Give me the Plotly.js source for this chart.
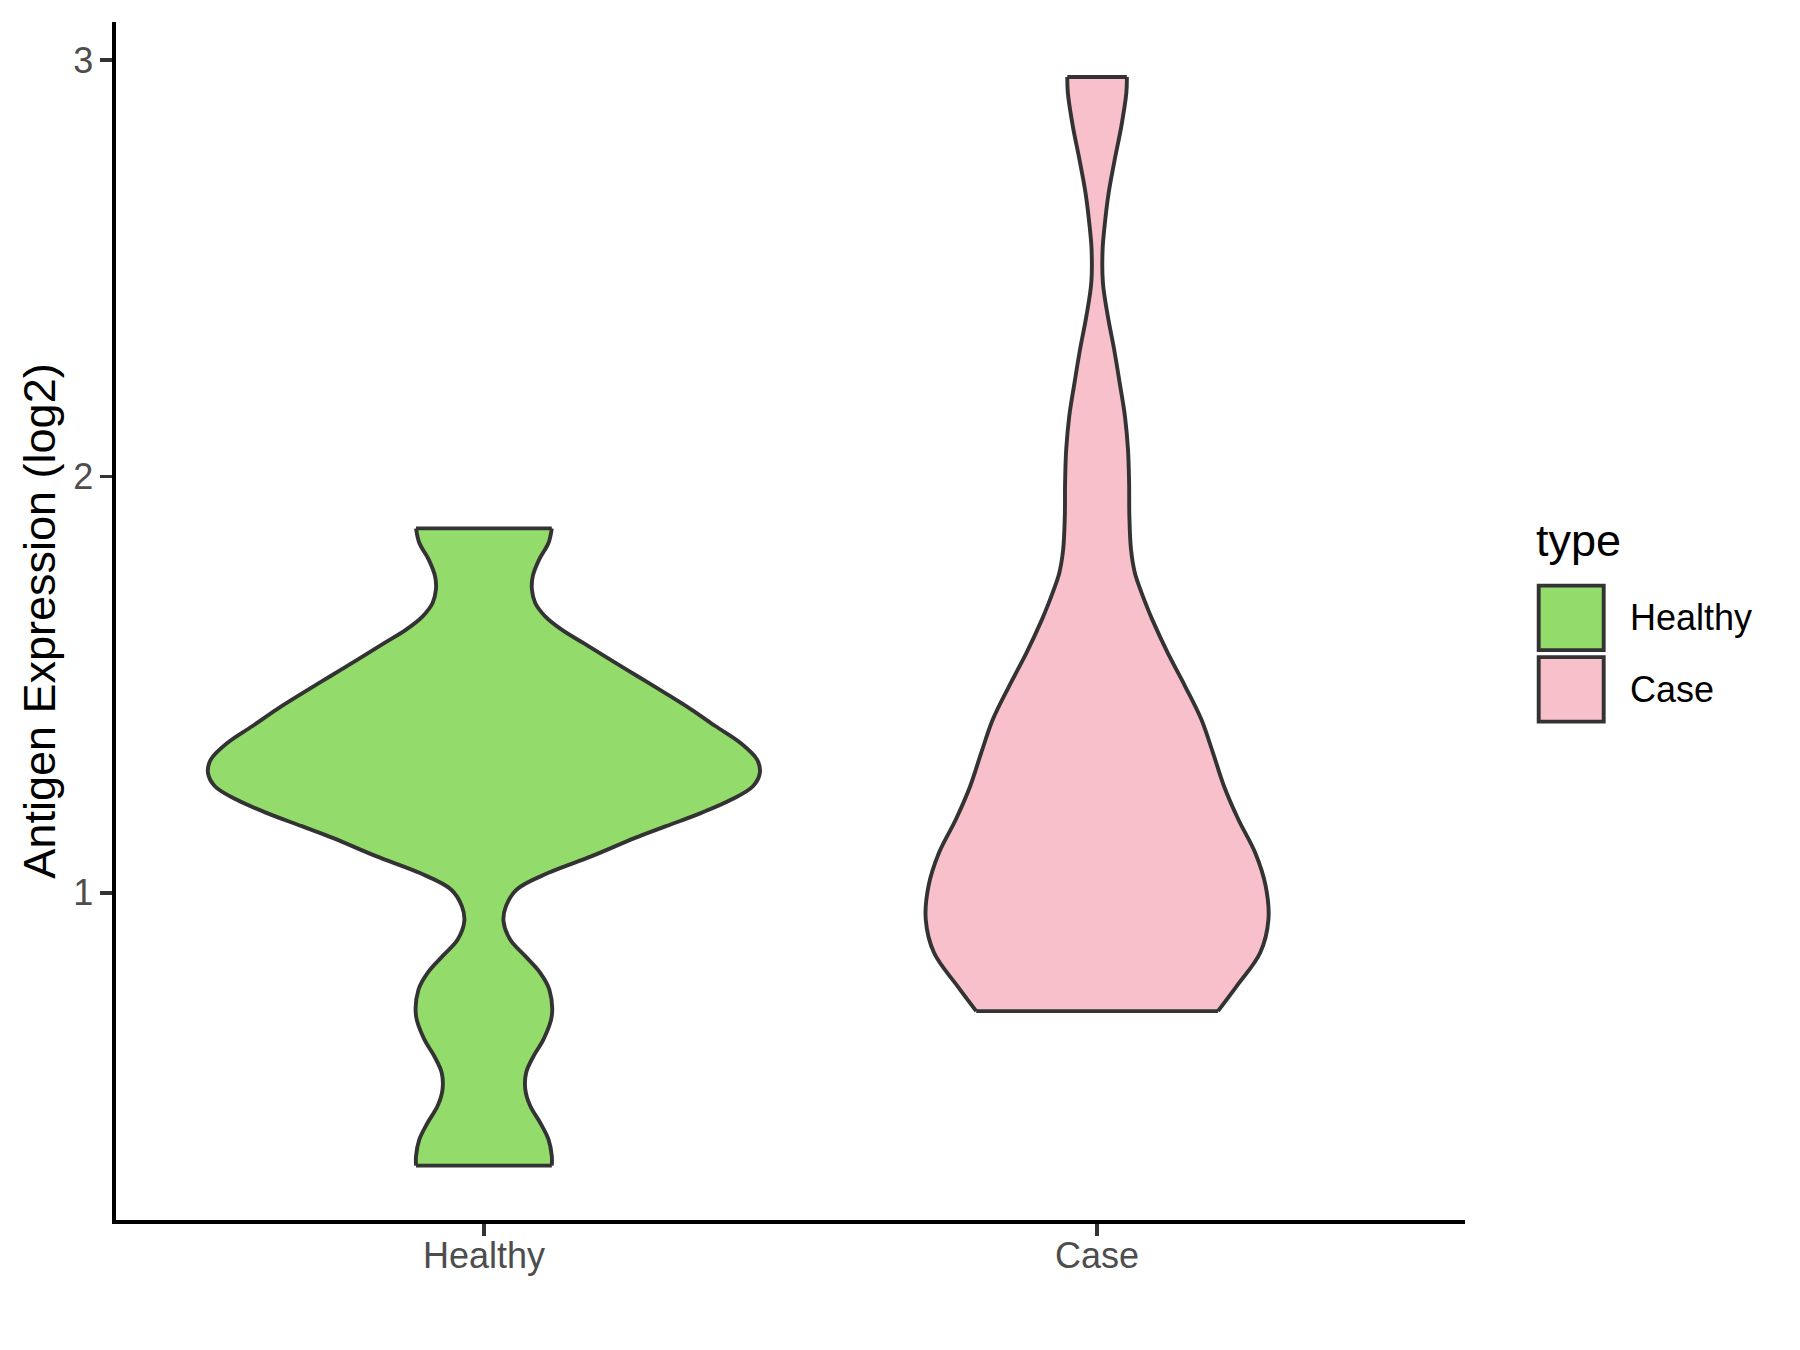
<!DOCTYPE html>
<html>
<head>
<meta charset="utf-8">
<script src="https://cdn.plot.ly/plotly-3.0.1.min.js"></script>
<style>
  html, body { margin: 0; padding: 0; background: #ffffff; }
  #chart { width: 1800px; height: 1350px; }
</style>
</head>
<body>
<div id="chart"></div>
<script>
// ---- Data ----
const categories = ['Healthy', 'Case'];
const fillColors = ['#93DB6B', '#F7C0CB'];

// Violin density profiles: expression level (log2) and relative density (max = 1)
const healthyY = [1.875, 1.840, 1.800, 1.760, 1.728, 1.696, 1.664, 1.632, 1.600, 1.560,
                  1.520, 1.480, 1.440, 1.400, 1.360, 1.320, 1.288, 1.256, 1.224, 1.192,
                  1.160, 1.132, 1.088, 1.048, 1.008, 0.968, 0.932, 0.888, 0.848, 0.808,
                  0.768, 0.704, 0.648, 0.608, 0.568, 0.528, 0.488, 0.448, 0.408, 0.368, 0.345];
const healthyDensity = [0.246, 0.234, 0.200, 0.177, 0.174, 0.186, 0.222, 0.282, 0.360, 0.458,
                        0.557, 0.656, 0.752, 0.840, 0.930, 0.990, 1.000, 0.975, 0.897, 0.788,
                        0.660, 0.548, 0.391, 0.234, 0.119, 0.080, 0.071, 0.095, 0.150, 0.204,
                        0.237, 0.246, 0.216, 0.180, 0.153, 0.150, 0.168, 0.204, 0.234, 0.246, 0.246];

const caseY = [2.959, 2.921, 2.841, 2.761, 2.681, 2.600, 2.545, 2.465, 2.384, 2.304,
               2.224, 2.144, 2.064, 1.984, 1.904, 1.824, 1.768, 1.728, 1.688, 1.656,
               1.576, 1.496, 1.416, 1.336, 1.256, 1.176, 1.096, 1.016, 0.936, 0.856,
               0.776, 0.716];
const caseDensity = [0.108, 0.106, 0.088, 0.064, 0.042, 0.027, 0.020, 0.021, 0.039, 0.062,
                     0.082, 0.101, 0.112, 0.116, 0.117, 0.123, 0.137, 0.157, 0.180, 0.200,
                     0.256, 0.319, 0.378, 0.420, 0.460, 0.512, 0.573, 0.611, 0.621, 0.591,
                     0.506, 0.438];

const yTickVals = [1, 2, 3];
const yTickText = ['1', '2', '3'];
const yAxisTitle = 'Antigen Expression (log2)';
const legendTitle = 'type';

// ---- Build traces ----
const groups = [
  { y: healthyY, d: healthyDensity },
  { y: caseY, d: caseDensity }
];
const halfMax = 0.45;          // violin width 0.9 (widest violin)
const outlineColor = '#333333';
const outlineWidth = 3.9;
const fontFamily = 'Liberation Sans, Arial, sans-serif';

const traces = [];
groups.forEach((g, i) => {
  const pos = i + 1;
  const leftX = g.d.map(v => pos - halfMax * v);
  const rightX = g.d.map(v => pos + halfMax * v);
  const n = g.y.length;
  // fill polygon
  const fx = leftX.concat(rightX.slice().reverse());
  const fy = g.y.concat(g.y.slice().reverse());
  traces.push({
    type: 'scatter', mode: 'lines', x: fx, y: fy,
    fill: 'toself', fillcolor: fillColors[i],
    line: { width: 0, color: fillColors[i] },
    hoverinfo: 'skip', showlegend: false
  });
  // outline: smooth sides + straight caps
  const ox = leftX.concat([null], rightX, [null], [leftX[0], rightX[0]], [null], [leftX[n-1], rightX[n-1]]);
  const oy = g.y.concat([null], g.y, [null], [g.y[0], g.y[0]], [null], [g.y[n-1], g.y[n-1]]);
  traces.push({
    type: 'scatter', mode: 'lines', x: ox, y: oy,
    connectgaps: false,
    line: { color: outlineColor, width: outlineWidth, shape: 'spline', smoothing: 1 },
    hoverinfo: 'skip', showlegend: false
  });
});

// ---- Layout ----
const W = 1800, H = 1350;
const L = 116, R = 1465, T = 22.3, B = 1220.5;
const px = x => (x - L) / (R - L);
const py = y => (B - y) / (B - T);

const shapes = [];
const annotations = [];
annotations.push({
  xref: 'paper', yref: 'paper', x: px(1534), y: py(541),
  xanchor: 'left', yanchor: 'middle', showarrow: false,
  text: legendTitle, font: { family: fontFamily, size: 45, color: '#000000' }
});
categories.forEach((c, i) => {
  const top = 586 + i * 71.5, bot = top + 64.5;
  shapes.push({
    type: 'rect', xref: 'paper', yref: 'paper',
    x0: px(1538.7), x1: px(1603.7), y0: py(bot), y1: py(top),
    fillcolor: fillColors[i], line: { color: outlineColor, width: outlineWidth }
  });
  annotations.push({
    xref: 'paper', yref: 'paper', x: px(1628), y: py((top + bot) / 2),
    xanchor: 'left', yanchor: 'middle', showarrow: false,
    text: c, font: { family: fontFamily, size: 36, color: '#000000' }
  });
});

const layout = {
  width: W, height: H,
  paper_bgcolor: '#ffffff', plot_bgcolor: '#ffffff',
  margin: { l: L, r: W - R, t: T, b: H - B, pad: 0 },
  showlegend: false,
  font: { family: fontFamily, color: '#000000' },
  xaxis: {
    range: [0.4, 2.6], tickvals: [1, 2], ticktext: categories,
    showgrid: false, zeroline: false,
    showline: true, linecolor: '#000000', linewidth: 3.6,
    ticks: 'outside', ticklen: 12, tickwidth: 3.6, tickcolor: '#333333',
    ticklabelstandoff: -11,
    tickfont: { family: fontFamily, size: 36, color: '#4D4D4D' },
    fixedrange: true
  },
  yaxis: {
    range: [0.2144, 3.091], tickvals: yTickVals, ticktext: yTickText,
    showgrid: false, zeroline: false,
    showline: true, linecolor: '#000000', linewidth: 3.6,
    ticks: 'outside', ticklen: 12, tickwidth: 3.6, tickcolor: '#333333',
    tickfont: { family: fontFamily, size: 36, color: '#4D4D4D' },
    title: { text: yAxisTitle, standoff: 4,
             font: { family: fontFamily, size: 45, color: '#000000' } },
    fixedrange: true
  },
  shapes: shapes,
  annotations: annotations
};

Plotly.newPlot('chart', traces, layout, { staticPlot: true, displayModeBar: false });
</script>
</body>
</html>
